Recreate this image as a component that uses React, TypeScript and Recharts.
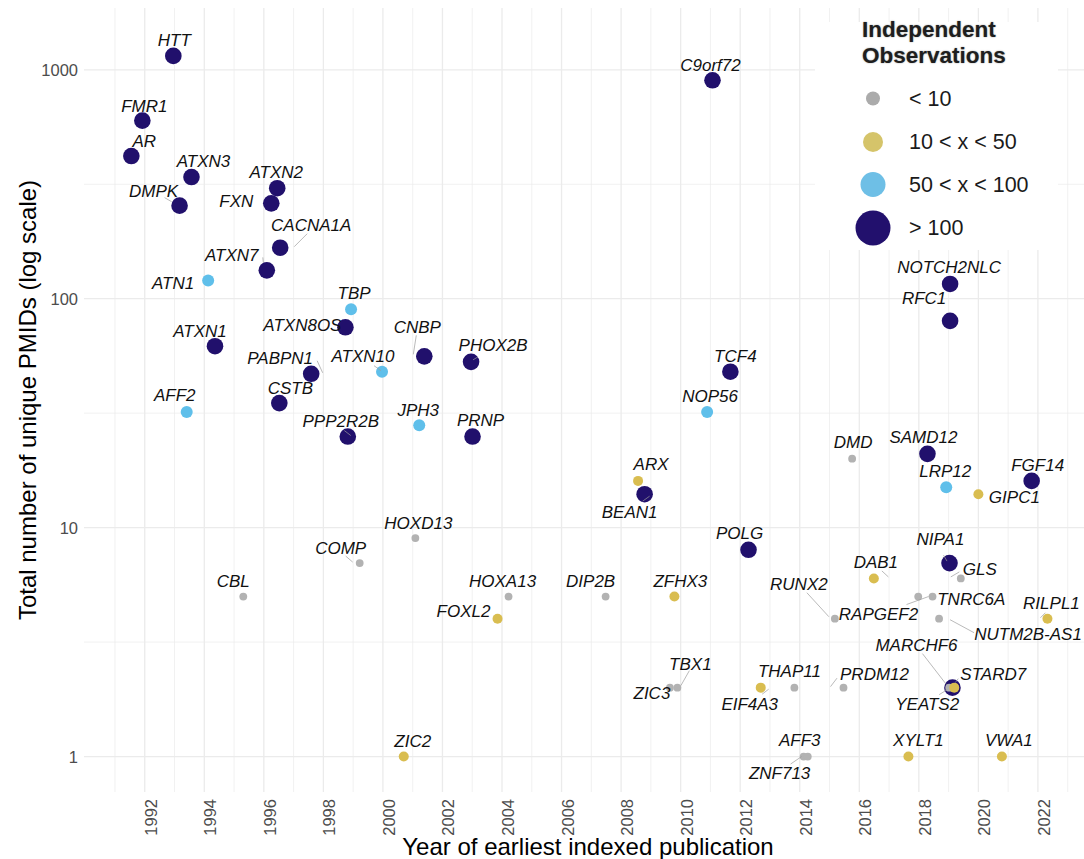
import React from 'react';
import { ScatterChart, Scatter, XAxis, YAxis, CartesianGrid } from 'recharts';

// gene, year of earliest indexed publication, unique PMIDs, observation class
const genes = [
  'HTT', 'FMR1', 'AR', 'ATXN3', 'DMPK', 'ATXN2', 'FXN', 'CACNA1A', 'ATXN7', 'ATN1',
  'TBP', 'ATXN8OS', 'ATXN1', 'PABPN1', 'ATXN10', 'CSTB', 'AFF2', 'PPP2R2B', 'CNBP', 'PHOX2B',
  'JPH3', 'PRNP', 'C9orf72', 'TCF4', 'NOP56', 'NOTCH2NLC', 'RFC1', 'ARX', 'BEAN1', 'SAMD12',
  'DMD', 'LRP12', 'GIPC1', 'FGF14', 'HOXD13', 'COMP', 'POLG', 'NIPA1', 'GLS', 'DAB1',
  'CBL', 'HOXA13', 'DIP2B', 'ZFHX3', 'TNRC6A', 'RAPGEF2', 'FOXL2', 'RUNX2', 'NUTM2B-AS1', 'RILPL1',
  'ZIC3', 'TBX1', 'EIF4A3', 'THAP11', 'PRDM12', 'MARCHF6', 'YEATS2', 'STARD7', 'ZIC2', 'ZNF713',
  'AFF3', 'XYLT1', 'VWA1',
];
const years = [
  1992.96, 1991.92, 1991.55, 1993.57, 1993.17, 1996.45, 1996.25, 1996.55, 1996.1, 1994.13,
  1998.93, 1998.74, 1994.36, 1997.59, 1999.97, 1996.52, 1993.41, 1998.82, 2001.39, 2002.96,
  2001.22, 2003.01, 2011.07, 2011.67, 2010.89, 2019.05, 2019.05, 2008.57, 2008.79, 2018.29,
  2015.76, 2018.92, 2020.0, 2021.79, 2001.09, 1999.22, 2012.28, 2019.03, 2019.41, 2016.49,
  1995.31, 2004.22, 2007.48, 2009.79, 2017.98, 2018.46, 2003.85, 2015.18, 2018.68, 2022.32,
  2009.64, 2009.89, 2012.69, 2013.82, 2015.47, 2019.13, 2019.02, 2019.19, 2000.7, 2014.13,
  2014.27, 2017.65, 2020.79,
];
const pmids = [
  1150, 600, 420, 340, 255, 304, 261, 167, 133, 120,
  90, 75, 62, 47, 48, 35, 32, 25, 56, 53,
  28, 25, 900, 48, 32, 116, 80, 16, 14, 21,
  20, 15, 14, 16, 9, 7, 8, 7, 6, 6,
  5, 5, 5, 5, 5, 5, 4, 4, 4, 4,
  2, 2, 2, 2, 2, 2, 2, 2, 1, 1,
  1, 1, 1,
];
// 0: < 10, 1: 10 < x < 50, 2: 50 < x < 100, 3: > 100
const obsClass = [
  3, 3, 3, 3, 3, 3, 3, 3, 3, 2,
  2, 3, 3, 3, 2, 3, 2, 3, 3, 3,
  2, 3, 3, 3, 2, 3, 3, 1, 3, 3,
  0, 2, 1, 3, 0, 0, 3, 3, 0, 1,
  0, 0, 0, 1, 0, 0, 1, 0, 0, 1,
  0, 0, 1, 0, 0, 3, 0, 1, 1, 0,
  0, 1, 1,
];

const classLabels = ['< 10', '10 < x < 50', '50 < x < 100', '> 100'];
const yearTicks = Array.from({ length: 33 }, (_, i) => 1991 + i);
const pmidMajor = [1, 10, 100, 1000];
const pmidMinor = [3.1623, 31.623, 316.23];

const classColors = ['#B2B2B2', '#D9BD50', '#5FBFEA', '#21106C'];
const legendColors = ['#ABABAB', '#D5C46A', '#6EBFE6', '#22106D'];
const dotRadius = [3.9, 5, 6, 8.3];
const legendRadius = [7, 10, 12.5, 17.5];
const drawOrder = [3, 2, 0, 1];

// label placement: [dx, dy, segX1, segY1, segX2, segY2] relative to the point, px
const labelNudge: Record<string, number[]> = {
  HTT: [1, -15], FMR1: [2, -14], AR: [13, -15], ATXN3: [12, -16],
  DMPK: [-26, -14, -15, -8, -8, -4], ATXN2: [-1, -16], FXN: [-35, -2],
  CACNA1A: [31, -22, 14, -1, 27, -14], ATXN7: [-35, -15, -4, -13, -3.5, -8], ATN1: [-35, 3],
  TBP: [3, -16], ATXN8OS: [-43, -2], ATXN1: [-15, -15], PABPN1: [-31, -15, 6, -13, 11.5, -1],
  ATXN10: [-19, -15, -8, -6, -1, -1], CSTB: [11, -15], AFF2: [-12, -16],
  PPP2R2B: [-7, -15, -3.5, -6, 3, -1], COMP: [-19, -15, -14, -7, -7, -1],
  CNBP: [-7, -29, -8, -21, -11, -2], PHOX2B: [22, -16, 2, -2, 7, -5], JPH3: [-1, -15],
  PRNP: [8, -16], TCF4: [5, -15], NOP56: [3, -15], ARX: [13, -16], BEAN1: [-15, 18, -2, 7, 5, 2],
  HOXD13: [3, -15], POLG: [-9, -16], C9orf72: [-2, -15], NOTCH2NLC: [-1, -16], RFC1: [-26, -22],
  DMD: [1, -16], SAMD12: [-4, -16], LRP12: [-1, -16], GIPC1: [36, 3], FGF14: [6, -15],
  NIPA1: [-9, -24, -6, -8, -2.5, -2], GLS: [19, -9, -1.5, -6.5, -10, -1.5],
  DAB1: [2, -16, 8, -7.5, 14.5, -1.5], RUNX2: [-36, -34, -28, -26, -6, -2], TNRC6A: [53, 3],
  RAPGEF2: [-54, 18, -26, 8, -4, 0], 'NUTM2B-AS1': [89, 16, 11, 1, 35, 14],
  RILPL1: [4, -15, -7, -1, -2, -6], MARCHF6: [-36, -42, -30, -34, -6, -3],
  STARD7: [39, -13, 4, -9, 1, -5], YEATS2: [-22, 17, -10, 7, -2, 2], THAP11: [-5, -16],
  EIF4A3: [-11, 17, 1.5, 6.5, 8, 1.5], PRDM12: [31, -13, -6.5, -9.5, -13, -1], ZIC3: [-18, 6],
  TBX1: [13, -23, 12, -17, 3.5, -2], DIP2B: [-15, -15], ZFHX3: [6, -15], HOXA13: [-6, -15],
  FOXL2: [-34, -7], CBL: [-10, -15], ZIC2: [9, -15], AFF3: [-8, -16],
  ZNF713: [-24, 17, -13, 7.5, -2, 0], XYLT1: [10, -16], VWA1: [7, -16],
};

const points = genes.map((g, i) => ({ gene: g, x: years[i], y: pmids[i], cls: obsClass[i] }));

const FONT = '"Liberation Sans", Arial, Helvetica, sans-serif';
const PLOT_BOTTOM = 792;

const Dot = (props: any) => {
  const { cx, cy, payload } = props;
  if (cx == null || cy == null) return null;
  return <circle cx={cx} cy={cy} r={dotRadius[payload.cls]} fill={classColors[payload.cls]} />;
};

const GeneLabel = (props: any) => {
  const { cx, cy, payload } = props;
  if (cx == null || cy == null) return null;
  const n = labelNudge[payload.gene] || [0, -15];
  return (
    <g>
      {n.length > 2 && (
        <line x1={cx + n[2]} y1={cy + n[3]} x2={cx + n[4]} y2={cy + n[5]} stroke="#9C9C9C" strokeWidth={0.7} />
      )}
      <text
        x={cx + n[0]}
        y={cy + n[1]}
        textAnchor="middle"
        dominantBaseline="central"
        fontStyle="italic"
        fontSize={17}
        fontFamily={FONT}
        fill="#111"
      >
        {payload.gene}
      </text>
    </g>
  );
};

const XTick = (props: any) => {
  const { x, payload } = props;
  if (payload.value % 2 !== 0) return <g />;
  const tx = x + 6;
  const ty = PLOT_BOTTOM + 7;
  return (
    <text
      x={tx}
      y={ty}
      transform={`rotate(-90, ${tx}, ${ty})`}
      textAnchor="end"
      dominantBaseline="central"
      fontSize={16.5}
      fontFamily={FONT}
      fill="#4D4D4D"
    >
      {payload.value}
    </text>
  );
};

const YTick = (props: any) => {
  const { y, payload } = props;
  return (
    <text x={78} y={y} textAnchor="end" dominantBaseline="central" fontSize={16.5} fontFamily={FONT} fill="#4D4D4D">
      {payload.value}
    </text>
  );
};

export default function App() {
  return (
    <div style={{ position: 'relative', width: 1084, height: 859, overflow: 'hidden', background: '#fff' }}>
      <style>{'body{margin:0}'}</style>
      <ScatterChart width={1100} height={859} margin={{ top: 8, right: 7.3, bottom: 0, left: 0 }}>
        <CartesianGrid
          stroke="#EBEBEB"
          strokeWidth={0.7}
          verticalValues={yearTicks.filter(y => y % 2 !== 0)}
          horizontalValues={pmidMinor}
        />
        <CartesianGrid
          stroke="#EBEBEB"
          strokeWidth={1.3}
          verticalValues={yearTicks.filter(y => y % 2 === 0)}
          horizontalValues={pmidMajor}
        />
        <XAxis
          type="number"
          dataKey="x"
          domain={[1989.96, 2023.84]}
          allowDataOverflow
          ticks={yearTicks}
          interval={0}
          tick={<XTick />}
          axisLine={false}
          tickLine={false}
          height={67}
        />
        <YAxis
          type="number"
          dataKey="y"
          scale="log"
          domain={[0.7, 1862]}
          allowDataOverflow
          ticks={pmidMajor}
          interval={0}
          tick={<YTick />}
          axisLine={false}
          tickLine={false}
          width={84}
        />
        {drawOrder.map(c => (
          <Scatter
            key={c}
            data={points.filter(p => p.cls === c)}
            fill={classColors[c]}
            shape={<Dot />}
            isAnimationActive={false}
          />
        ))}
        <Scatter data={points} fill="transparent" shape={<GeneLabel />} isAnimationActive={false} />
      </ScatterChart>

      <svg width={1084} height={859} style={{ position: 'absolute', left: 0, top: 0, pointerEvents: 'none' }}>
        <rect x={815} y={22} width={243} height={228} fill="#fff" />
        <g fontFamily={FONT} fontWeight="bold" fontSize={22.5} fill="#1E1E1E" style={{ textShadow: '0 0 1.5px #888' }}>
          <text x={862} y={37}>Independent</text>
          <text x={862} y={63}>Observations</text>
        </g>
        {classLabels.map((lab, i) => {
          const cy = [98.5, 142, 184.5, 228][i];
          return (
            <g key={lab}>
              <circle cx={873} cy={cy} r={legendRadius[i]} fill={legendColors[i]} />
              <text x={909} y={cy} dominantBaseline="central" fontSize={21.5} fontFamily={FONT} fill="#1A1A1A">
                {lab}
              </text>
            </g>
          );
        })}
        <text
          x={27}
          y={400}
          transform="rotate(-90, 27, 400)"
          textAnchor="middle"
          dominantBaseline="central"
          fontSize={24}
          fontFamily={FONT}
          fill="#000"
        >
          Total number of unique PMIDs (log scale)
        </text>
        <text x={588} y={855} textAnchor="middle" fontSize={24} fontFamily={FONT} fill="#000">
          Year of earliest indexed publication
        </text>
      </svg>
    </div>
  );
}
